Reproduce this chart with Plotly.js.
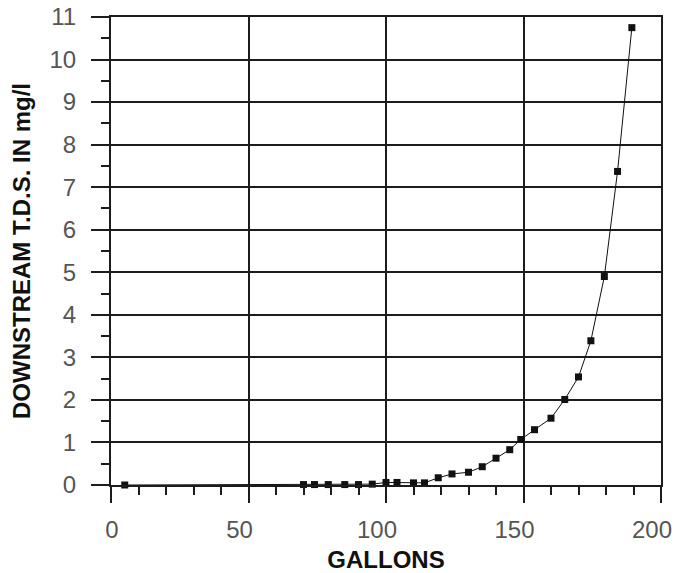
<!DOCTYPE html>
<html>
<head>
<meta charset="utf-8">
<script src="https://cdn.plot.ly/plotly-3.0.1.min.js"></script>
<style>
html,body{margin:0;padding:0;background:#fff;}
#chart{width:677px;height:573px;}
</style>
</head>
<body>
<div id="chart"></div>
<script>
// Data
const gallons = [5, 70, 74, 79, 85, 90, 95, 100, 104, 110, 114, 119, 124, 130, 135, 140, 145, 149, 154, 160, 165, 170, 174.5, 179.4, 184.2, 189.4];
const tds     = [0.0, 0.01, 0.01, 0.01, 0.01, 0.01, 0.02, 0.06, 0.06, 0.05, 0.05, 0.17, 0.26, 0.30, 0.43, 0.63, 0.83, 1.07, 1.30, 1.57, 2.01, 2.54, 3.39, 4.90, 7.37, 10.75];
const xTickVals = [0, 50, 100, 150, 200];
const xTickText = ['\u00a0\u00a0\u00a00', '50', '100', '150', '200'];
const yTickVals = [0, 1, 2, 3, 4, 5, 6, 7, 8, 9, 10, 11];
const xTitle = 'GALLONS';
const yTitle = 'DOWNSTREAM T.D.S. IN mg/l';

const gridColor = '#1c1c1c';
const tickFont = {family: 'Liberation Sans, Arial, sans-serif', size: 24, color: '#555555'};
const titleFont = {family: 'Liberation Sans, Arial, sans-serif', size: 24, color: '#111111', weight: 'bold'};

const trace = {
  x: gallons,
  y: tds,
  type: 'scatter',
  mode: 'lines+markers',
  line: {color: '#111111', width: 1},
  marker: {symbol: 'square', size: 7, color: '#111111'},
  hoverinfo: 'x+y',
  cliponaxis: false
};

const layout = {
  width: 677,
  height: 573,
  margin: {l: 111, r: 16, t: 17, b: 88},
  paper_bgcolor: '#ffffff',
  plot_bgcolor: '#ffffff',
  showlegend: false,
  xaxis: {
    range: [0, 200],
    tickmode: 'array',
    tickvals: xTickVals,
    ticktext: xTickText,
    showgrid: true,
    gridcolor: gridColor,
    gridwidth: 2,
    zeroline: false,
    showline: true,
    mirror: true,
    linecolor: gridColor,
    linewidth: 2,
    ticks: 'outside',
    ticklen: 16,
    tickwidth: 2,
    tickcolor: gridColor,
    ticklabelstandoff: 6,
    ticklabelshift: -9,
    ticklabeloverflow: 'allow',
    tickfont: tickFont,
    minor: {dtick: 10, tick0: 0, ticks: 'outside', ticklen: 8, tickwidth: 2, tickcolor: gridColor, showgrid: false},
    title: {text: xTitle, font: titleFont, standoff: 16}
  },
  yaxis: {
    range: [0, 11],
    tickmode: 'array',
    tickvals: yTickVals,
    ticktext: yTickVals.map(String),
    showgrid: true,
    gridcolor: gridColor,
    gridwidth: 2,
    zeroline: false,
    showline: true,
    mirror: true,
    linecolor: gridColor,
    linewidth: 2,
    ticks: 'outside',
    ticklen: 18,
    tickwidth: 2,
    tickcolor: gridColor,
    ticklabelstandoff: 10,
    ticklabeloverflow: 'allow',
    tickfont: tickFont,
    minor: {dtick: 0.5, tick0: 0, ticks: 'outside', ticklen: 8, tickwidth: 2, tickcolor: gridColor, showgrid: false},
    title: {text: yTitle, font: titleFont, standoff: 12}
  }
};

Plotly.newPlot('chart', [trace], layout, {displayModeBar: false, staticPlot: true});
</script>
</body>
</html>
